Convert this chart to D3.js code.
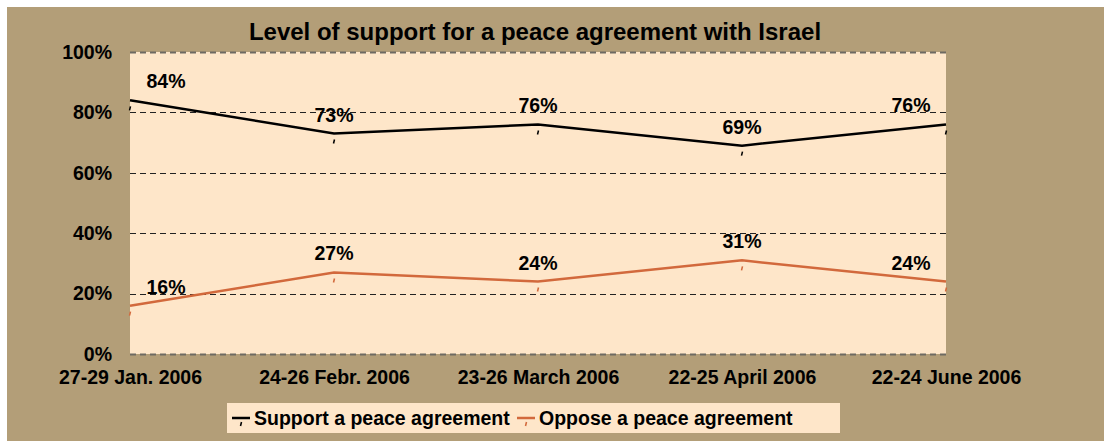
<!DOCTYPE html>
<html>
<head>
<meta charset="utf-8">
<script src="https://cdn.jsdelivr.net/npm/d3@7"></script>
<style>
	body { margin: 0; background: #ffffff; }
	text { font-family: "Liberation Sans", Arial, sans-serif; font-weight: bold; fill: #000; }
</style>
</head>
<body>
<div id="chart"></div>
<script>

	///////////////////////////////////////////////////////////////////////////
	///////////////////////////////// Data ////////////////////////////////////
	///////////////////////////////////////////////////////////////////////////

	var categories = ["27-29 Jan. 2006", "24-26 Febr. 2006", "23-26 March 2006", "22-25 April 2006", "22-24 June 2006"];
	var supportValues = [84, 73, 76, 69, 76];
	var opposeValues = [16, 27, 24, 31, 24];
	var yTicks = [0, 20, 40, 60, 80, 100];
	var seriesNames = ["Support a peace agreement", "Oppose a peace agreement"];
	var seriesColors = ["#000000", "#D2693C"];

	///////////////////////////////////////////////////////////////////////////
	//////////////////////////// Set up the svg ///////////////////////////////
	///////////////////////////////////////////////////////////////////////////

	var totalWidth = 1104,
		totalHeight = 441;

	var plot = { left: 130, right: 946, top: 52, bottom: 354 };
	var fontSize = "19.5px";

	var svg = d3.select("#chart").append("svg")
		.attr("width", totalWidth)
		.attr("height", totalHeight);

	//Tan outer background
	svg.append("rect")
		.attr("x", 7).attr("y", 7)
		.attr("width", totalWidth - 7)
		.attr("height", totalHeight - 7)
		.style("fill", "#B39E78");

	//Plot area
	svg.append("rect")
		.attr("x", plot.left).attr("y", plot.top)
		.attr("width", plot.right - plot.left)
		.attr("height", plot.bottom - plot.top)
		.style("fill", "#FEE6C9");

	var x = d3.scalePoint()
		.domain(categories)
		.range([plot.left, plot.right])
		.padding(0);

	var y = d3.scaleLinear()
		.domain([0, 100])
		.range([plot.bottom, plot.top]);

	///////////////////////////////////////////////////////////////////////////
	//////////////////////////////// Axes /////////////////////////////////////
	///////////////////////////////////////////////////////////////////////////

	//Dashed gridlines
	svg.selectAll(".grid")
		.data(yTicks)
		.enter().append("line")
		.attr("class", "grid")
		.attr("x1", plot.left)
		.attr("x2", plot.right)
		.attr("y1", function(d) { return Math.round(y(d)) + 0.5; })
		.attr("y2", function(d) { return Math.round(y(d)) + 0.5; })
		.style("stroke", function(d) { return (d === 0 || d === 100) ? "#6E6A62" : "#222"; })
		.style("stroke-width", function(d) { return (d === 0 || d === 100) ? 2 : 1; })
		.style("stroke-dasharray", "6,4");

	var yAxis = svg.append("g")
		.attr("transform", "translate(" + plot.left + ",0)")
		.call(d3.axisLeft(y).tickValues(yTicks).tickSize(0).tickPadding(18).tickFormat(function(d) { return d + "%"; }));
	yAxis.select(".domain").remove();
	yAxis.selectAll("text")
		.style("font-size", fontSize)
		.style("font-family", "'Liberation Sans', Arial, sans-serif")
		.style("font-weight", "bold");

	var xAxis = svg.append("g")
		.attr("transform", "translate(0," + plot.bottom + ")")
		.call(d3.axisBottom(x).tickSize(0).tickPadding(16));
	xAxis.select(".domain").remove();
	xAxis.selectAll("text")
		.style("font-size", fontSize)
		.style("font-family", "'Liberation Sans', Arial, sans-serif")
		.style("font-weight", "bold");

	///////////////////////////////////////////////////////////////////////////
	/////////////////////////////// Lines /////////////////////////////////////
	///////////////////////////////////////////////////////////////////////////

	var series = [supportValues, opposeValues];

	var line = d3.line()
		.x(function(d, i) { return x(categories[i]); })
		.y(function(d) { return y(d); });

	series.forEach(function(values, s) {
		svg.append("path")
			.datum(values)
			.attr("d", line)
			.style("fill", "none")
			.style("stroke", seriesColors[s])
			.style("stroke-width", 2.5);

		//Tiny marker ticks under each point
		svg.selectAll(".marker-" + s)
			.data(values)
			.enter().append("line")
			.attr("class", "marker-" + s)
			.attr("x1", function(d, i) { return x(categories[i]) + 0.5; })
			.attr("x2", function(d, i) { return x(categories[i]) - 0.5; })
			.attr("y1", function(d) { return y(d) + 6; })
			.attr("y2", function(d) { return y(d) + 10; })
			.style("stroke", seriesColors[s])
			.style("stroke-width", 1.5);

		//Value labels
		svg.selectAll(".label-" + s)
			.data(values)
			.enter().append("text")
			.attr("class", "label-" + s)
			.attr("x", function(d, i) {
				var off = i === 0 ? 36 : (i === values.length - 1 ? -35 : 0);
				return x(categories[i]) + off;
			})
			.attr("y", function(d) { return y(d) - 12; })
			.attr("text-anchor", "middle")
			.style("font-size", fontSize)
			.text(function(d) { return d + "%"; });
	});

	///////////////////////////////////////////////////////////////////////////
	/////////////////////////////// Title /////////////////////////////////////
	///////////////////////////////////////////////////////////////////////////

	svg.append("text")
		.attr("x", 535)
		.attr("y", 40)
		.attr("text-anchor", "middle")
		.style("font-size", "24px")
		.text("Level of support for a peace agreement with Israel");

	///////////////////////////////////////////////////////////////////////////
	/////////////////////////////// Legend ////////////////////////////////////
	///////////////////////////////////////////////////////////////////////////

	var legend = svg.append("g").attr("transform", "translate(227,403)");

	legend.append("rect")
		.attr("width", 613)
		.attr("height", 30)
		.style("fill", "#FEE6C9");

	var legendX = [5, 290];

	seriesNames.forEach(function(name, s) {
		var g = legend.append("g").attr("transform", "translate(" + legendX[s] + ",0)");
		g.append("line")
			.attr("x1", 0).attr("x2", 18)
			.attr("y1", 15).attr("y2", 15)
			.style("stroke", seriesColors[s])
			.style("stroke-width", 2.5);
		g.append("line")
			.attr("x1", 9.5).attr("x2", 8.5)
			.attr("y1", 19).attr("y2", 23)
			.style("stroke", seriesColors[s])
			.style("stroke-width", 1.5);
		g.append("text")
			.attr("x", 22)
			.attr("y", 22)
			.style("font-size", fontSize)
			.text(name);
	});

</script>
</body>
</html>
